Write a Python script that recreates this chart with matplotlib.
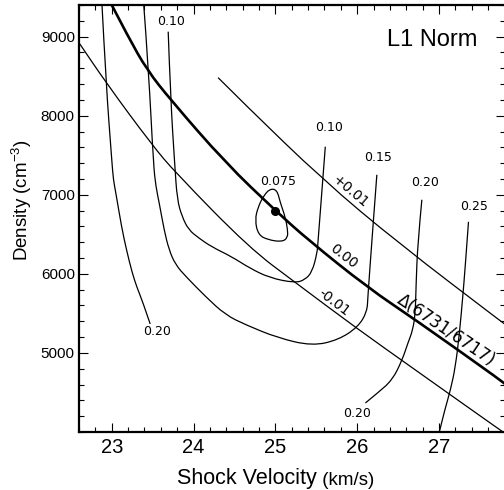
import matplotlib
matplotlib.use('Agg')
import matplotlib.pyplot as plt
from matplotlib.path import Path
from matplotlib.patches import PathPatch
from matplotlib.ticker import MultipleLocator

plt.rcParams['font.family'] = ['Liberation Sans', 'DejaVu Sans']
plt.rcParams['mathtext.fontset'] = 'custom'
plt.rcParams['mathtext.rm'] = 'Liberation Sans'
plt.rcParams['mathtext.default'] = 'regular'

# Delta(6731/6717) ratio lines (velocity in km/s, density in cm^-3)
ratio_zero_v = [22.99, 23.20, 23.43, 23.72, 24.39, 25.00, 25.40, 26.13, 26.71, 27.78, 27.85]
ratio_zero_n = [9420, 9000, 8580, 8200, 7405, 6800, 6430, 5825, 5420, 4635, 4575]
ratio_minus_v = [22.55, 22.60, 22.93, 23.49, 23.78, 24.68, 25.25, 25.97, 26.71, 27.78, 27.87]
ratio_minus_n = [8995, 8924, 8418, 7633, 7279, 6329, 5886, 5329, 4785, 4000, 3937]
ratio_plus_v = [24.30, 24.63, 25.58, 26.50, 27.78, 27.86]
ratio_plus_n = [8481, 8139, 7190, 6392, 5380, 5320]

# L1 norm contours
c075_v = [24.93, 25.02, 25.06, 25.12, 25.15, 25.15, 25.08, 24.91, 24.79, 24.75, 24.79, 24.85]
c075_n = [7076, 7063, 6899, 6722, 6557, 6456, 6405, 6430, 6494, 6684, 6848, 6975]
c10_v = [23.69, 23.72, 23.77, 23.80, 23.86, 23.94, 24.06, 24.22, 24.47, 24.68, 24.93,
         25.24, 25.36, 25.45, 25.51, 25.52, 25.61]
c10_n = [9063, 8203, 7380, 6937, 6722, 6557, 6456, 6342, 6215, 6076, 5949,
         5886, 5924, 6025, 6266, 6392, 7608]
c15_v = [23.39, 23.45, 23.51, 23.54, 23.58, 23.64, 23.70, 23.78, 23.91, 24.15, 24.39,
         24.64, 25.03, 25.45, 25.77, 26.01, 26.12, 26.13, 26.18, 26.24]
c15_n = [9420, 8582, 7380, 7101, 6899, 6557, 6304, 6114, 5962, 5709, 5481,
         5354, 5190, 5089, 5165, 5329, 5519, 5709, 6430, 7253]
c20a_v = [22.88, 22.93, 23.00, 23.02, 23.05, 23.12, 23.18, 23.25, 23.31, 23.37, 23.47]
c20a_n = [9420, 8418, 7443, 7190, 7025, 6595, 6304, 6013, 5823, 5671, 5367]
c20b_v = [26.79, 26.74, 26.72, 26.71, 26.68, 26.62, 26.55, 26.43, 26.25, 26.10]
c20b_n = [6937, 6392, 5886, 5506, 5291, 5127, 4911, 4658, 4494, 4367]
c25_v = [27.36, 27.32, 27.29, 27.25, 27.20, 27.14, 27.07, 27.01, 27.00]
c25_n = [6658, 6089, 5709, 5253, 4823, 4532, 4279, 4025, 3987]

best_v, best_n = 25.0, 6800

contour_labels = ['0.10', '0.10', '0.15', '0.20', '0.25', '0.075', '0.20', '0.20']
contour_label_v = [23.73, 25.65, 26.26, 26.83, 27.43, 25.03, 23.56, 26.00]
contour_label_n = [9190, 7854, 7468, 7152, 6848, 7171, 5266, 4228]


def smooth_curve(ax, v, n, closed=False, **kw):
    """ Draw the traced points as a quadratic bezier path (points are control points) """
    pts = list(zip(v, n))
    mid = lambda a, b: ((a[0] + b[0]) / 2, (a[1] + b[1]) / 2)
    if closed:
        start = mid(pts[-1], pts[0])
        verts, codes = [start], [Path.MOVETO]
        ring = pts + [pts[0]]
        for i in range(len(pts)):
            verts += [ring[i], mid(ring[i], ring[i + 1])]
            codes += [Path.CURVE3, Path.CURVE3]
    else:
        verts, codes = [pts[0]], [Path.MOVETO]
        for i in range(1, len(pts) - 1):
            end = mid(pts[i], pts[i + 1]) if i < len(pts) - 2 else pts[-1]
            verts += [pts[i], end]
            codes += [Path.CURVE3, Path.CURVE3]
        if len(pts) == 2:
            verts.append(pts[1])
            codes.append(Path.LINETO)
    ax.add_patch(PathPatch(Path(verts, codes), fill=False, capstyle='butt', **kw))


fig = plt.figure(figsize=(5.04, 4.9), dpi=100)
ax = fig.add_axes([79 / 504, 58 / 490, 425.5 / 504, 427 / 490])

thin = dict(color='k', lw=0.9)
smooth_curve(ax, ratio_minus_v, ratio_minus_n, **thin)
smooth_curve(ax, ratio_plus_v, ratio_plus_n, **thin)
smooth_curve(ax, ratio_zero_v, ratio_zero_n, color='k', lw=1.9)
smooth_curve(ax, c075_v, c075_n, closed=True, **thin)
for v, n in [(c10_v, c10_n), (c15_v, c15_n), (c20a_v, c20a_n), (c20b_v, c20b_n), (c25_v, c25_n)]:
    smooth_curve(ax, v, n, **thin)
ax.plot(best_v, best_n, 'o', ms=5.5, color='k')

for lab, v, n in zip(contour_labels, contour_label_v, contour_label_n):
    ax.text(v, n, lab, ha='center', va='center', fontsize=9, family='DejaVu Sans')

# labels along the ratio lines
ax.text(25.91, 7038, '+0.01', rotation=-40, rotation_mode='anchor', ha='center', va='center',
        fontsize=10, family='DejaVu Sans')
ax.text(25.83, 6228, '0.00', rotation=-38, rotation_mode='anchor', ha='center', va='center',
        fontsize=10, family='DejaVu Sans')
ax.text(25.72, 5633, '-0.01', rotation=-37, rotation_mode='anchor', ha='center', va='center',
        fontsize=10, family='DejaVu Sans')
ax.text(27.09, 5285, '\u0394(6731/6717)', rotation=-34, rotation_mode='anchor', ha='center',
        va='center', fontsize=12, family='DejaVu Sans')

ax.text(26.92, 8962, 'L1 Norm', ha='center', va='center', fontsize=17)

ax.set_xlim(22.6, 27.8)
ax.set_ylim(4000, 9400)
ax.xaxis.set_major_locator(MultipleLocator(1))
ax.xaxis.set_minor_locator(MultipleLocator(0.2))
ax.yaxis.set_major_locator(MultipleLocator(1000))
ax.yaxis.set_minor_locator(MultipleLocator(200))
ax.set_yticks([5000, 6000, 7000, 8000, 9000])
ax.tick_params(which='both', direction='in', top=True, right=True, width=0.8)
ax.tick_params(which='major', length=6.5)
ax.tick_params(which='minor', length=3.4)
ax.tick_params(axis='x', labelsize=14.5, pad=4)
ax.tick_params(axis='y', labelsize=11, pad=3)
for side in ['left', 'bottom', 'top']:
    ax.spines[side].set_linewidth(1.6)
ax.spines['right'].set_visible(False)

fig.text(22 / 504, 1 - 200 / 490, 'Density (cm$^{-3}$)', rotation=90, ha='center', va='center',
         fontsize=13.5)
t1 = fig.text(177 / 504, 0.002, 'Shock Velocity', ha='left', va='bottom', fontsize=15.5)
ax.annotate(' (km/s)', xy=(1, 0), xycoords=t1, ha='left', va='bottom', fontsize=13.5,
            annotation_clip=False)

fig.savefig('out.png', dpi=100)
